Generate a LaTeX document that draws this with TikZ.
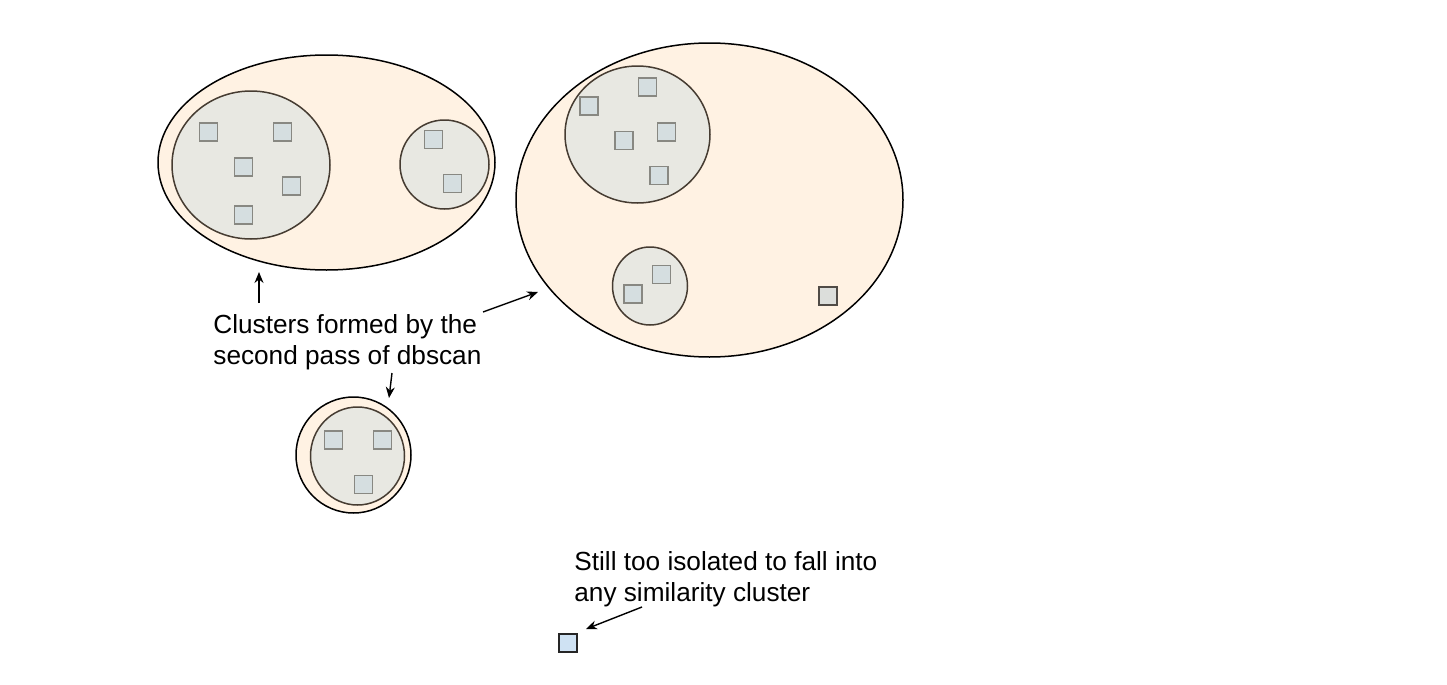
\documentclass[tikz,border=0pt]{standalone}
\usepackage{fontspec}
\setmainfont{Liberation Sans}
\usetikzlibrary{shapes.geometric,arrows.meta}

\definecolor{peach}{RGB}{255,242,227}
\definecolor{innerfill}{RGB}{232,232,226}
\definecolor{innerline}{RGB}{70,60,50}
\definecolor{sqfill}{RGB}{213,222,224}
\definecolor{sqline}{RGB}{136,136,130}
\definecolor{lonefill}{RGB}{220,222,219}
\definecolor{loneline}{RGB}{80,75,70}
\definecolor{isofill}{RGB}{207,226,243}

\tikzset{
  outer/.style={ellipse, draw=black, fill=peach, line width=0.75pt, inner sep=0pt},
  inner/.style={ellipse, draw=innerline, fill=innerfill, line width=0.75pt, inner sep=0pt},
  sq/.style={rectangle, draw=sqline, fill=sqfill, line width=0.75pt, minimum size=9pt, inner sep=0pt},
  lbl/.style={align=left, inner sep=0pt, font=\fontsize{13.1}{15.3}\selectfont}
}

\begin{document}
\begin{tikzpicture}[x=0.5pt, y=-0.5pt, >={Stealth[length=5.5pt,width=4.5pt]}]

  \useasboundingbox (0,0) rectangle (1447,685);

  %% first cluster group, top left
  \node[outer, minimum width=168.5pt, minimum height=107.5pt] (cA) at (326.5,162.5) {};
  \node[inner, minimum width=79pt, minimum height=74pt] (cA1) at (251,165) {};
  \node[inner, minimum width=44.5pt, minimum height=44.5pt] (cA2) at (444.5,164.5) {};

  \node[sq] (a1) at (208.5,132) {};
  \node[sq] (a2) at (282.5,132) {};
  \node[sq] (a3) at (243.5,167) {};
  \node[sq] (a4) at (291.5,186) {};
  \node[sq] (a5) at (243.5,215) {};
  \node[sq] (a6) at (433.5,139.5) {};
  \node[sq] (a7) at (452.5,183.5) {};

  %% second cluster group, right
  \node[outer, minimum width=193.5pt, minimum height=157pt] (cB) at (709.5,200) {};
  \node[inner, minimum width=72.5pt, minimum height=68.5pt] (cB1) at (637.5,134.5) {};
  \node[inner, minimum width=37.5pt, minimum height=39pt] (cB2) at (650,286) {};

  \node[sq] (b1) at (589,106) {};
  \node[sq] (b2) at (647.5,87) {};
  \node[sq] (b3) at (624,140.5) {};
  \node[sq] (b4) at (666.5,132) {};
  \node[sq] (b5) at (659,175.5) {};
  \node[sq] (b6) at (661.5,274.5) {};
  \node[sq] (b7) at (633,294) {};
  \node[sq, draw=loneline, fill=lonefill] (b8) at (828,296) {};

  %% third cluster group, bottom
  \node[outer, minimum width=57.5pt, minimum height=58pt] (cC) at (353.5,455) {};
  \node[inner, minimum width=47pt, minimum height=49pt] (cC1) at (357.5,456) {};

  \node[sq] (c1) at (333.5,440) {};
  \node[sq] (c2) at (382.5,440) {};
  \node[sq] (c3) at (363.5,484.5) {};

  %% isolated point
  \node[sq, draw=black!85, fill=isofill] (iso) at (568,643) {};

  \node[lbl, anchor=west] (lblA) at (213,342)
  {Clusters formed by the\\second pass of dbscan};
  \node[lbl, anchor=west] (lblB) at (574,579)
  {Still too isolated to fall into\\any similarity cluster};

  \coordinate (tailA) at (259,303);
  \coordinate (tipA) at (259,272);
  \coordinate (tailB) at (483,312);
  \coordinate (tipB) at (538,292);
  \coordinate (tailC) at (392,373);
  \coordinate (tipC) at (389,398);
  \coordinate (tailI) at (642,607);
  \coordinate (tipI) at (586,629);

  \draw[->, line width=0.7pt] (tailA) -- (tipA); %% label -> group A
  \draw[->, line width=0.7pt] (tailB) -- (tipB); %% label -> group B
  \draw[->, line width=0.7pt] (tailC) -- (tipC); %% label -> group C
  \draw[->, line width=0.7pt] (tailI) -- (tipI); %% label -> isolated

\end{tikzpicture}
\end{document}
